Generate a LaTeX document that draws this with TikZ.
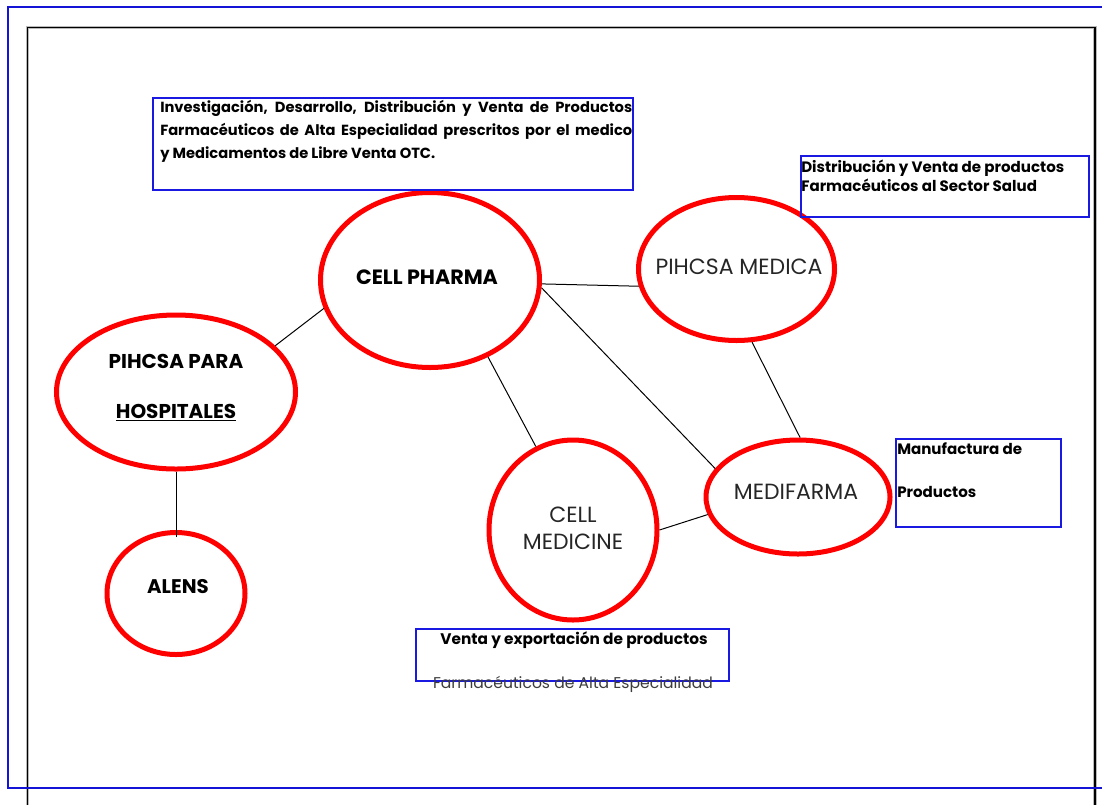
\documentclass[tikz,border=0pt]{standalone}
\usepackage{fontspec}
\setmainfont{Poppins}
\usetikzlibrary{shapes.geometric}
\definecolor{frameblue}{RGB}{20,20,215}
\definecolor{boxblue}{RGB}{25,25,225}
\definecolor{ringred}{RGB}{255,0,0}
\definecolor{notegray}{RGB}{60,60,60}
\begin{document}
\begin{tikzpicture}[x=0.75pt,y=-0.75pt,
  ring/.style={draw=ringred, line width=3.75pt, ellipse, inner sep=0pt},
  link/.style={draw=black, line width=0.75pt},
  infobox/.style={draw=boxblue, line width=1.5pt, rectangle, inner sep=0pt, anchor=north west},
  lbl/.style={font=\fontsize{16.5}{17}\selectfont, align=center, inner sep=0pt, text=black!85},
  boldlbl/.style={font=\fontsize{15.3}{17}\selectfont\bfseries, align=center, inner sep=0pt},
  infotext/.style={inner sep=0pt, anchor=north west}
]
\useasboundingbox (0,0) rectangle (1102,804);
% page frames
\draw[gray!55, line width=2.6pt] (27.5,27.5) rectangle (1095,840);
\draw[black, line width=1.3pt] (27.5,27.5) rectangle (1095,840);
\draw[frameblue, line width=1.5pt] (7.5,7) rectangle (1130,788);

% ellipses
\node[ring, minimum width=164.25pt, minimum height=131.25pt] (pharma) at (430,280) {};
\node[ring, minimum width=147pt, minimum height=107.25pt] (medica) at (736.5,269) {};
\node[ring, minimum width=179.25pt, minimum height=115.5pt] (hosp) at (176,392) {};
\node[ring, minimum width=103.5pt, minimum height=91.5pt] (alens) at (176,593.5) {};
\node[ring, minimum width=126pt, minimum height=135pt] (medicine) at (573,530) {};
\node[ring, minimum width=138pt, minimum height=85.5pt] (medifarma) at (798,497) {};

% labels
\node[boldlbl, font=\fontsize{15.5}{17}\selectfont\bfseries] (tpharma) at (427,277) {CELL PHARMA};
\node[boldlbl, font=\fontsize{15}{37.5}\selectfont\bfseries] (thosp) at (176,388) {PIHCSA PARA\\\underline{HOSPITALES}};
\node[boldlbl, font=\fontsize{14.8}{17}\selectfont\bfseries] (talens) at (178,587) {ALENS};
\node[lbl] (tmedica) at (739,267) {PIHCSA MEDICA};
\node[lbl, font=\fontsize{16.5}{20.25}\selectfont] (tmedicine) at (573,528.5) {CELL\\MEDICINE};
\node[lbl] (tmedifarma) at (796,492) {MEDIFARMA};

% connectors
\draw[link] (pharma.195) -- (hosp.25);
\draw[link] (pharma.358) -- (medica.190.5);
\draw[link] (pharma.356.4) -- (medifarma.161.4);
\draw[link] (pharma.307) -- (medicine.114.6);
\draw[link] (medica.282) -- (medifarma.88);
\draw[link] (medicine.0) -- (medifarma.191.7);
\draw[link, shorten >=-5pt] (hosp.south) -- (alens.north);

% info boxes
\node[infobox, minimum width=360pt, minimum height=69pt] (box1) at (152,97) {};
\node[infotext, text width=354pt, align=justify, font=\fontsize{11}{17.25}\selectfont\bfseries] (txt1) at (160,99.5)
  {Investigación, Desarrollo, Distribución y Venta de Productos\linebreak Farmacéuticos de Alta Especialidad prescritos por el medico\linebreak y Medicamentos de Libre Venta OTC.};

\node[infobox, minimum width=216pt, minimum height=45.75pt] (box2) at (800,155) {};
\node[infotext, align=left, font=\fontsize{11.3}{14.25}\selectfont\bfseries] (txt2) at (801,159.5)
  {Distribución y Venta de productos\\Farmacéuticos al Sector Salud};

\node[infobox, minimum width=123.75pt, minimum height=66pt] (box3) at (895,438) {};
\node[infotext, align=left, font=\fontsize{11.3}{32.25}\selectfont\bfseries] (txt3) at (897,442)
  {Manufactura de\\Productos};

\node[infobox, minimum width=234.75pt, minimum height=39pt] (box4) at (415,628) {};
\node[inner sep=0pt, font=\fontsize{11.5}{13}\selectfont\bfseries] (txt4) at (574,640)
  {Venta y exportación de productos};
\node[inner sep=0pt, font=\fontsize{11.7}{13}\selectfont, text=notegray] (txt5) at (573,684)
  {Farmacéuticos de Alta Especialidad};
\end{tikzpicture}
\end{document}
